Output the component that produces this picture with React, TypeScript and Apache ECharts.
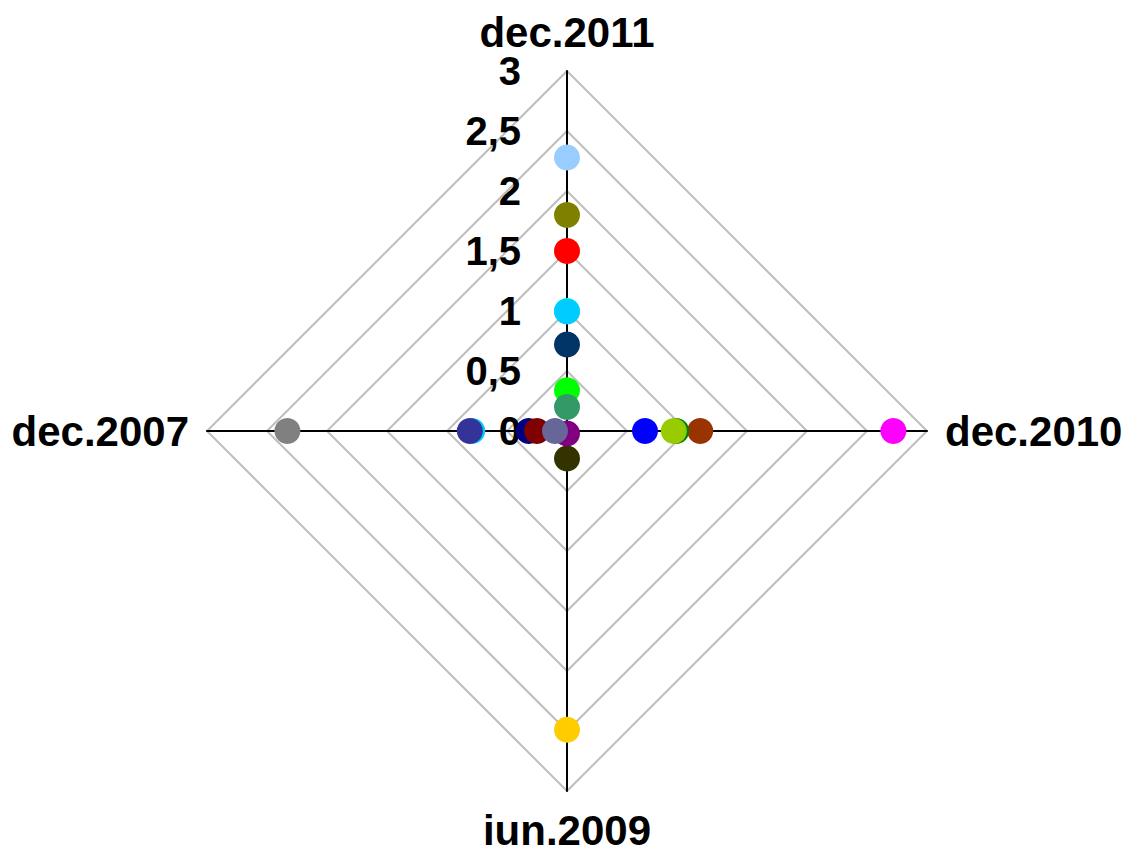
import React, { useEffect, useRef } from "react";
import * as echarts from "echarts";

// Axis categories, clockwise from the top
const categories = ["dec.2011", "dec.2010", "iun.2009", "dec.2007"];
// Radar indicators in ECharts' counter-clockwise order
const radarOrder = ["dec.2011", "dec.2007", "iun.2009", "dec.2010"];
const axisMax = 3;
const tickStep = 0.5;

// Each point: which axis it sits on, its value, and its colour
const pointAxes = [
  "dec.2011", "dec.2011", "dec.2011", "dec.2011", "dec.2011", "dec.2011", "dec.2011", "dec.2011",
  "iun.2009", "iun.2009",
  "dec.2010", "dec.2010", "dec.2010", "dec.2010", "dec.2010",
  "dec.2007", "dec.2007", "dec.2007",
  "iun.2009",
  "dec.2007", "dec.2007", "dec.2007",
];
const pointValues = [
  2.28, 1.8, 1.5, 1.0, 0.995, 0.72, 0.34, 0.2,
  2.49, 0.23,
  2.72, 1.11, 0.91, 0.89, 0.65,
  2.33, 0.79, 0.81,
  0.02,
  0.32, 0.25, 0.1,
];
const pointColors = [
  "#99CCFF", "#808000", "#FF0000", "#00FFFF", "#00CCFF", "#003366", "#00FF00", "#339966",
  "#FFCC00", "#333300",
  "#FF00FF", "#993300", "#008000", "#99CC00", "#0000FF",
  "#808080", "#00CCFF", "#333399",
  "#800080",
  "#000080", "#800000", "#666699",
];

const FONT = "'Liberation Sans', Arial, Helvetica, sans-serif";

export default function App() {
  const ref = useRef<HTMLDivElement>(null);
  useEffect(() => {
    if (!ref.current) return;
    const chart = echarts.init(ref.current, null, { renderer: "svg" });
    const center = [567, 431];
    const radius = 360;
    chart.setOption({
      animation: false,
      backgroundColor: "#ffffff",
      radar: {
        center,
        radius,
        startAngle: 90,
        shape: "polygon",
        splitNumber: axisMax / tickStep,
        nameGap: 18,
        indicator: radarOrder.map((name) => ({ name, min: 0, max: axisMax })),
        axisName: {
          color: "#000",
          fontSize: 42,
          fontWeight: "bold",
          fontFamily: FONT,
        },
        axisLine: { lineStyle: { color: "#000", width: 2 } },
        splitLine: { lineStyle: { color: "#BEBEBE", width: 2 } },
        splitArea: { show: false },
        axisLabel: { show: false },
        axisTick: { show: false },
      },
      polar: { center, radius },
      angleAxis: {
        type: "category",
        data: categories,
        startAngle: 90,
        clockwise: true,
        boundaryGap: false,
        axisLine: { show: false },
        axisTick: { show: false },
        axisLabel: { show: false },
        splitLine: { show: false },
      },
      radiusAxis: {
        type: "value",
        min: 0,
        max: axisMax,
        interval: tickStep,
        axisLine: { show: false },
        axisTick: { show: false },
        splitLine: { show: false },
        axisLabel: {
          show: true,
          margin: 46,
          color: "#000",
          fontSize: 40,
          fontWeight: "bold",
          fontFamily: FONT,
          formatter: (v: number) => String(v).replace(".", ","),
        },
        z: 1,
      },
      series: [
        {
          type: "scatter",
          coordinateSystem: "polar",
          symbol: "circle",
          symbolSize: 26,
          z: 5,
          data: pointValues.map((v, i) => ({
            value: [v, pointAxes[i]],
            itemStyle: { color: pointColors[i], opacity: 1 },
          })),
        },
      ],
    });
    return () => chart.dispose();
  }, []);
  return (
    <div
      ref={ref}
      style={{ position: "fixed", left: 0, top: 0, width: 1122, height: 852 }}
    />
  );
}
